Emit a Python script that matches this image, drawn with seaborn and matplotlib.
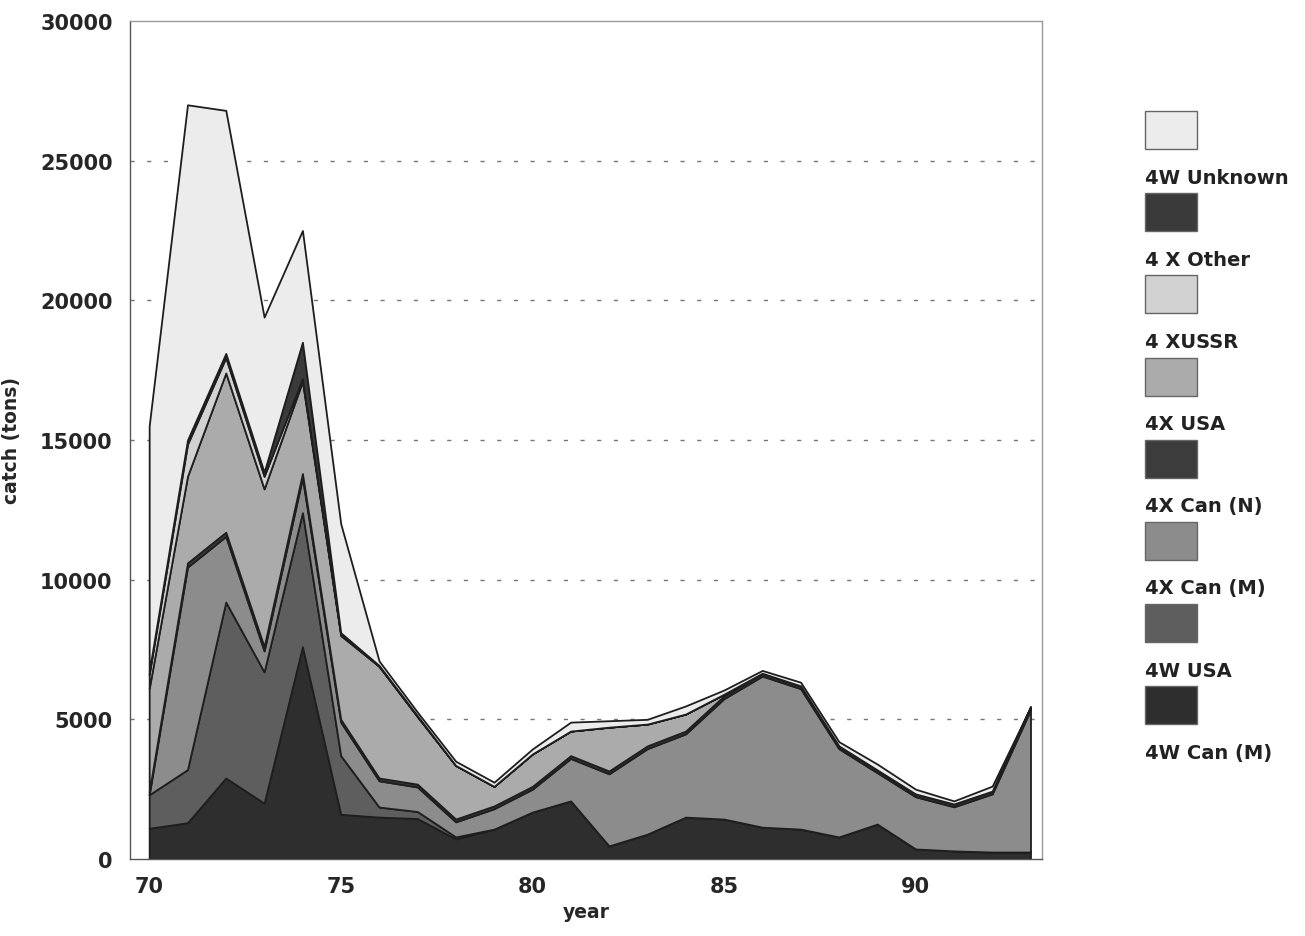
import numpy as np
import pandas as pd
import matplotlib
matplotlib.use("Agg")
import matplotlib.pyplot as plt
from matplotlib.patches import Rectangle
from matplotlib.ticker import MultipleLocator
import seaborn as sns

# =========================
# DATOS (toneladas por año)
# =========================
years = list(range(70, 94))

w_can_m   = [1100, 1300, 2900, 2000, 7600, 1600, 1500, 1450, 720, 1070, 1680, 2080,
             470, 890, 1500, 1430, 1140, 1070, 790, 1250, 360, 290, 250, 250]
w_usa     = [1200, 1900, 6300, 4700, 4800, 2100, 360, 250, 70, 0, 0, 0,
             0, 0, 0, 0, 0, 0, 0, 0, 0, 0, 0, 0]
x_can_m   = [0, 7250, 2350, 750, 1250, 1200, 940, 880, 540, 730, 820, 1520,
             2580, 3060, 2980, 4310, 5410, 5030, 3160, 1840, 1870, 1580, 2080, 5090]
x_can_n   = [100, 150, 150, 150, 150, 100, 100, 100, 100, 100, 100, 100,
             100, 100, 100, 100, 100, 100, 100, 100, 100, 100, 100, 100]
x_usa     = [3700, 3100, 5700, 5650, 3300, 3000, 4000, 2420, 1920, 700, 1160, 880,
             1570, 780, 610, 60, 0, 0, 0, 0, 0, 0, 0, 0]
x_ussr    = [500, 1150, 550, 450, 100, 50, 0, 0, 0, 0, 0, 0,
             0, 0, 0, 0, 0, 0, 0, 0, 0, 0, 0, 0]
x_other   = [100, 150, 150, 150, 1300, 50, 30, 30, 0, 0, 0, 0,
             0, 0, 0, 0, 0, 0, 0, 0, 0, 0, 0, 0]
w_unknown = [8800, 12000, 8700, 5550, 4000, 3900, 160, 130, 150, 150, 180, 320,
             230, 170, 290, 150, 100, 130, 150, 210, 170, 110, 180, 0]

# orden de apilado (de abajo a arriba)
series = ["4W Can (M)", "4W USA", "4X Can (M)", "4X Can (N)",
          "4X USA", "4 XUSSR", "4 X Other", "4W Unknown"]
colores = ["#2e2e2e", "#5e5e5e", "#8c8c8c", "#3c3c3c",
           "#ababab", "#d2d2d2", "#3a3a3a", "#ececec"]

df = pd.DataFrame({
    "year": years,
    "4W Can (M)": w_can_m,
    "4W USA": w_usa,
    "4X Can (M)": x_can_m,
    "4X Can (N)": x_can_n,
    "4X USA": x_usa,
    "4 XUSSR": x_ussr,
    "4 X Other": x_other,
    "4W Unknown": w_unknown,
})

# =========================
# FIGURA
# =========================
sns.set_style("white")
plt.rcParams["font.family"] = ["DejaVu Sans"]

W, H = 1305, 937
fig = plt.figure(figsize=(W / 100, H / 100), dpi=100)
ax = fig.add_axes([130 / W, 1 - 860 / H, (1042 - 130) / W, (860 - 22) / H])

ax.stackplot(df["year"], [df[s] for s in series], colors=colores,
             edgecolor="#1e1e1e", linewidth=1.3)

ax.set_xlim(69.5, 93.3)
ax.set_ylim(0, 30000)
ax.xaxis.set_major_locator(MultipleLocator(5))
ax.xaxis.set_minor_locator(MultipleLocator(1))
ax.yaxis.set_major_locator(MultipleLocator(5000))
ax.yaxis.set_minor_locator(MultipleLocator(2500))

for v in range(5000, 30000, 5000):
    ax.axhline(v, color="#777777", linestyle=(0, (3, 9)), linewidth=1.0, zorder=0)

ax.tick_params(axis="both", which="major", labelsize=15, length=9, width=1,
               color="#444444", direction="out")
ax.tick_params(axis="both", which="minor", length=7, width=1, color="#444444",
               direction="out")
for lab in ax.get_xticklabels() + ax.get_yticklabels():
    lab.set_fontweight("bold")

for sp in ax.spines.values():
    sp.set_color("#9a9a9a")
    sp.set_linewidth(1.0)
ax.spines["bottom"].set_color("#555555")
ax.spines["left"].set_color("#555555")

ax.set_xlabel("year", fontsize=13.5, fontweight="bold", labelpad=4)
ax.set_ylabel("catch (tons)", fontsize=13.5, fontweight="bold", labelpad=14)

# =========================
# LEYENDA (muestra arriba, etiqueta debajo)
# =========================
lax = fig.add_axes([1130 / W, 1 - 790 / H, 175 / W, 690 / H])
lax.set_xlim(1130, 1305)
lax.set_ylim(790, 100)
lax.axis("off")

for k, (nombre, col) in enumerate(zip(series[::-1], colores[::-1])):
    top = 112 + 82.2 * k
    lax.add_patch(Rectangle((1145, top), 52, 38, facecolor=col,
                            edgecolor="#666666", linewidth=1.0))
    lax.text(1145, top + 66, nombre, fontsize=14, fontweight="bold",
             va="center", ha="left", color="#222222")

fig.savefig("out.png", dpi=100)
